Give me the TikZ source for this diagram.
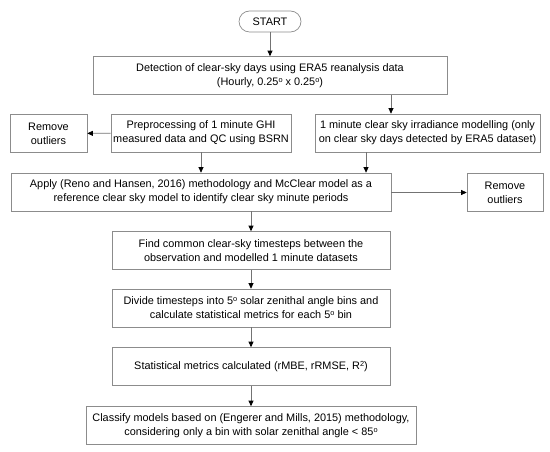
\documentclass[tikz,border=0pt]{standalone}
\usepackage{fontspec}
\setmainfont{Liberation Sans}
\usetikzlibrary{arrows.meta}
\newcommand{\degsup}[1]{\raisebox{0.55ex}{\fontsize{4.2}{4.2}\selectfont #1}}
\begin{document}
\begin{tikzpicture}[x=0.02cm,y=-0.02cm,
    blk/.style={draw=black!45,fill=white,align=center,inner sep=1pt,minimum height=0.76cm,
      font=\fontsize{6.2}{8}\selectfont},
    arr/.style={draw=black!55,-{Triangle[length=1.1mm,width=1mm,color=black]}}]
  \useasboundingbox (0,0) rectangle (550,452);
  \node[blk,rounded corners=0.21cm,minimum width=1.24cm,minimum height=0.42cm] (start) at (270,21.5) {START};
  \node[blk,minimum width=7.08cm] (det) at (270,75.5) {Detection of clear-sky days using ERA5 reanalysis data\\(Hourly, 0.25\degsup{o} x 0.25\degsup{o})};
  \node[blk,minimum width=1.54cm] (remL) at (48.5,133.5) {Remove\\outliers};
  \node[blk,minimum width=3.6cm] (prep) at (201,133) {Preprocessing of 1 minute GHI\\measured data and QC using BSRN};
  \node[blk,minimum width=4.5cm] (csm) at (427.5,133) {1 minute clear sky irradiance modelling (only\\on clear sky days detected by ERA5 dataset)};
  \node[blk,minimum width=7.6cm] (apply) at (201,192) {Apply (Reno and Hansen, 2016) methodology and McClear model as a\\reference clear sky model to identify clear sky minute periods};
  \node[blk,minimum width=1.52cm] (remR) at (505,192.5) {Remove\\outliers};
  \node[blk,minimum width=5.56cm] (find) at (251,250.5) {Find common clear-sky timesteps between the\\observation and modelled 1 minute datasets};
  \node[blk,minimum width=5.56cm] (div) at (251,308) {Divide timesteps into 5\degsup{o} solar zenithal angle bins and\\calculate statistical metrics for each 5\degsup{o} bin};
  \node[blk,minimum width=5.56cm] (stat) at (251,366.5) {Statistical metrics calculated (rMBE, rRMSE, R\degsup{2})};
  \node[blk,minimum width=6.6cm] (cls) at (251,425.5) {Classify models based on (Engerer and Mills, 2015) methodology,\\considering only a bin with solar zenithal angle < 85\degsup{o}};
  \draw[arr] (start) -- (det);
  \draw[arr] ([xshift=2.42cm]det.south) -- ([xshift=2.42cm]det.south |- csm.north);
  \draw[arr] (prep) -- (remL);
  \draw[arr] (prep) -- (apply);
  \draw[arr] ([xshift=-1.23cm]csm.south) -- ([xshift=-1.23cm]csm.south |- apply.north);
  \draw[arr] (apply.east |- remR) -- (remR);
  \draw[arr] (find.north |- apply.south) -- (find);
  \draw[arr] (find) -- (div);
  \draw[arr] (div) -- (stat);
  \draw[arr] (stat) -- (cls);
\end{tikzpicture}
\end{document}
